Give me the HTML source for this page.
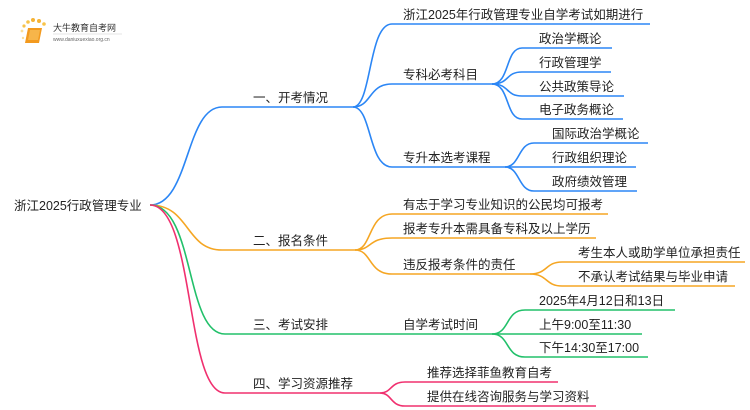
<!DOCTYPE html>
<html><head><meta charset="utf-8"><style>
html,body{margin:0;padding:0;background:#fff;}
svg{display:block;}
text{font-family:"Liberation Sans","Noto Sans CJK SC",sans-serif;font-size:12.5px;fill:#222;}
.b{stroke:#2b86f5;fill:none;stroke-width:1.6}
.o{stroke:#f5a623;fill:none;stroke-width:1.6}
.g{stroke:#22c06a;fill:none;stroke-width:1.6}
.p{stroke:#f0306f;fill:none;stroke-width:1.6}
</style></head><body>
<svg width="750" height="410" viewBox="0 0 750 410" xmlns="http://www.w3.org/2000/svg">
<!-- logo -->
<g>
<circle cx="24" cy="26" r="1.6" fill="#f7c34a"/><circle cx="28" cy="22" r="1.8" fill="#f7c34a"/><circle cx="33" cy="20" r="2" fill="#f5b335"/><circle cx="39" cy="21" r="2" fill="#f5b335"/><circle cx="44" cy="24" r="1.8" fill="#f7c34a"/><circle cx="22" cy="31" r="1.4" fill="#fadf9a"/><circle cx="23" cy="38" r="1.2" fill="#fadf9a"/>
<path d="M28 28 L42 28 L39 43 L25 43 Z" fill="#f39a1e"/>
<path d="M30 30 L40 30 L38 40 L28 40 Z" fill="#f7b54a"/>
<text x="53" y="31" style="font-size:9px;fill:#333">大牛教育自考网</text>
<line x1="53" y1="34" x2="122" y2="34" stroke="#ccc" stroke-width="0.5"/>
<text x="53" y="41" style="font-size:5px;fill:#666">www.daniuxuexiao.org.cn</text>
</g>
<!-- root -->
<text x="14" y="210">浙江2025行政管理专业</text>
<!-- branch 1 -->
<path class="b" d="M150 205 C190 205,185 107,222 107 L353 107"/>
<text x="253" y="102">一、开考情况</text>
<path class="b" d="M353 107 C372 107,368 24,392 24 L650 24"/>
<path class="b" d="M353 107 C372 107,368 84,392 84 L492 84"/>
<path class="b" d="M353 107 C372 107,368 167,392 167 L505 167"/>
<text x="403" y="19">浙江2025年行政管理专业自学考试如期进行</text>
<text x="403" y="79">专科必考科目</text>
<text x="403" y="162">专升本选考课程</text>
<path class="b" d="M492 84 C510 84,505 48,522 48 L612 48"/>
<path class="b" d="M492 84 C510 84,505 72,522 72 L611 72"/>
<path class="b" d="M492 84 C510 84,505 96,522 96 L624 96"/>
<path class="b" d="M492 84 C510 84,505 119,522 119 L623 119"/>
<text x="539" y="43">政治学概论</text>
<text x="539" y="67">行政管理学</text>
<text x="539" y="91">公共政策导论</text>
<text x="539" y="114">电子政务概论</text>
<path class="b" d="M505 167 C520 167,518 143,534 143 L648 143"/>
<path class="b" d="M505 167 L636 167"/>
<path class="b" d="M505 167 C520 167,518 191,534 191 L637 191"/>
<text x="552" y="138">国际政治学概论</text>
<text x="552" y="162">行政组织理论</text>
<text x="552" y="186">政府绩效管理</text>
<!-- branch 2 -->
<path class="o" d="M150 205 C190 205,185 250,222 250 L355 250"/>
<text x="253" y="245">二、报名条件</text>
<path class="o" d="M355 250 C372 250,368 214,392 214 L608 214"/>
<path class="o" d="M355 250 C372 250,368 238,392 238 L596 238"/>
<path class="o" d="M355 250 C372 250,368 274,392 274 L530 274"/>
<text x="403" y="209">有志于学习专业知识的公民均可报考</text>
<text x="403" y="233">报考专升本需具备专科及以上学历</text>
<text x="403" y="269">违反报考条件的责任</text>
<path class="o" d="M530 274 C548 274,545 262,562 262 L745 262"/>
<path class="o" d="M530 274 C548 274,545 286,562 286 L735 286"/>
<text x="578" y="257">考生本人或助学单位承担责任</text>
<text x="578" y="281">不承认考试结果与毕业申请</text>
<!-- branch 3 -->
<path class="g" d="M150 205 C195 205,185 334,225 334 L492 334"/>
<text x="253" y="329">三、考试安排</text>
<text x="403" y="329">自学考试时间</text>
<path class="g" d="M492 334 C510 334,505 310,525 310 L675 310"/>
<path class="g" d="M492 334 L642 334"/>
<path class="g" d="M492 334 C510 334,505 357,525 357 L648 357"/>
<text x="539" y="305">2025年4月12日和13日</text>
<text x="539" y="329">上午9:00至11:30</text>
<text x="539" y="352">下午14:30至17:00</text>
<!-- branch 4 -->
<path class="p" d="M150 205 C195 205,185 393,225 393 L380 393"/>
<text x="253" y="388">四、学习资源推荐</text>
<path class="p" d="M380 393 C392 393,390 382,405 382 L558 382"/>
<path class="p" d="M380 393 C392 393,390 406,405 406 L596 406"/>
<text x="427" y="377">推荐选择菲鱼教育自考</text>
<text x="427" y="401">提供在线咨询服务与学习资料</text>
</svg>
</body></html>
